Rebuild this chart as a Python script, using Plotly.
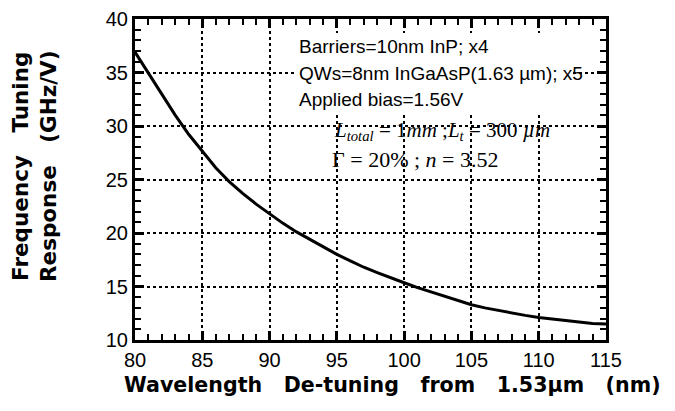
import plotly.graph_objects as go

wavelength = [80, 81, 82, 83, 84, 85, 86, 87, 88, 89, 90, 91, 92, 93, 94, 95, 96, 97, 98, 99,
              100, 101, 102, 103, 104, 105, 106, 107, 108, 109, 110, 111, 112, 113, 114, 115]
response = [36.9, 34.9, 32.9, 31.0, 29.2, 27.6, 26.1, 24.8, 23.7, 22.7, 21.8, 20.9, 20.1, 19.4, 18.7, 18.0,
            17.4, 16.8, 16.3, 15.8, 15.35, 14.9, 14.5, 14.1, 13.7, 13.3, 13.0, 12.75, 12.5, 12.3,
            12.1, 11.95, 11.8, 11.65, 11.55, 11.5]

x_range = [80, 115]
y_range = [10, 40]
major_step = 5
minor_step = 1

NBSP = "\u00a0"
x_title = f"Wavelength{NBSP*3}De-tuning{NBSP*3}from{NBSP*3}1.53µm{NBSP*3}(nm)"
y_title = f"Frequency{NBSP*3}Tuning<br>Response{NBSP*3}(GHz/V)"
info_lines = ["Barriers=10nm InP; x4", "QWs=8nm InGaAsP(1.63 µm); x5", "Applied bias=1.56V"]
param_line1 = f"<i>L<sub>total</sub></i> = 1<i>mm</i> ;<i>L<sub>t</sub></i> = 300{NBSP}<i>µm</i>"
param_line2 = f"Γ = 20% ; <i>n</i> = 3.52"

# figure geometry (page body adds an 8px margin)
W, H = 667, 403
L, T, R, B = 127, 11, 69, 71
PW, PH = W - L - R, H - T - B
OFF = 8


def px(sx):  # screen x -> paper x
    return (sx - OFF - L) / PW


def py(sy):  # screen y -> paper y
    return 1 - (sy - OFF - T) / PH


fig = go.Figure()
fig.add_trace(go.Scatter(x=wavelength, y=response, mode="lines",
                         line=dict(color="black", width=3), showlegend=False))

axis_common = dict(
    showline=True, linecolor="black", linewidth=3, mirror="allticks",
    ticks="inside", ticklen=9, tickwidth=2.5, tickcolor="black",
    showgrid=True, gridcolor="black", gridwidth=2, griddash="dot",
    zeroline=False, tickmode="linear", dtick=major_step, automargin=False,
    tickfont=dict(family="Liberation Sans, Arial", size=20, color="black"),
    minor=dict(ticks="inside", ticklen=6, tickwidth=2, tickcolor="black", dtick=minor_step, showgrid=False),
)

fig.update_xaxes(range=x_range, tick0=x_range[0], **axis_common)
fig.update_yaxes(range=y_range, tick0=y_range[0], **axis_common)

# white box behind the info text (covers grid)
fig.add_shape(type="rect", xref="paper", yref="paper", x0=px(295), x1=px(571), y0=py(112), y1=py(33),
              fillcolor="white", line=dict(width=0), layer="above")
for txt, sy in zip(info_lines, [46, 73, 99]):
    fig.add_annotation(x=px(297), y=py(sy), xref="paper", yref="paper", xanchor="left", yanchor="middle",
                       text=txt, showarrow=False,
                       font=dict(family="Liberation Sans, Arial", size=19, color="black"))

fig.add_annotation(x=px(332), y=py(131), xref="paper", yref="paper", xanchor="left", yanchor="middle",
                   text=param_line1, showarrow=False,
                   font=dict(family="Liberation Serif, Times New Roman", size=21, color="black"))
fig.add_annotation(x=px(330), y=py(159), xref="paper", yref="paper", xanchor="left", yanchor="middle",
                   text=param_line2, showarrow=False,
                   font=dict(family="Liberation Serif, Times New Roman", size=22, color="black"))

fig.add_annotation(x=px(392), y=py(385), xref="paper", yref="paper", text=x_title, showarrow=False,
                   xanchor="center", yanchor="middle",
                   font=dict(family="DejaVu Sans", size=20.6, color="black", weight="bold"))
fig.add_annotation(x=px(35), y=py(166), xref="paper", yref="paper",
                   text=y_title, showarrow=False, textangle=-90, xanchor="center", yanchor="middle",
                   font=dict(family="DejaVu Sans", size=21.5, color="black", weight="bold"))

fig.update_layout(
    template="none",
    width=W, height=H,
    margin=dict(l=L, r=R, t=T, b=B, autoexpand=False),
    paper_bgcolor="white", plot_bgcolor="white",
)

fig.write_html("out.html")
